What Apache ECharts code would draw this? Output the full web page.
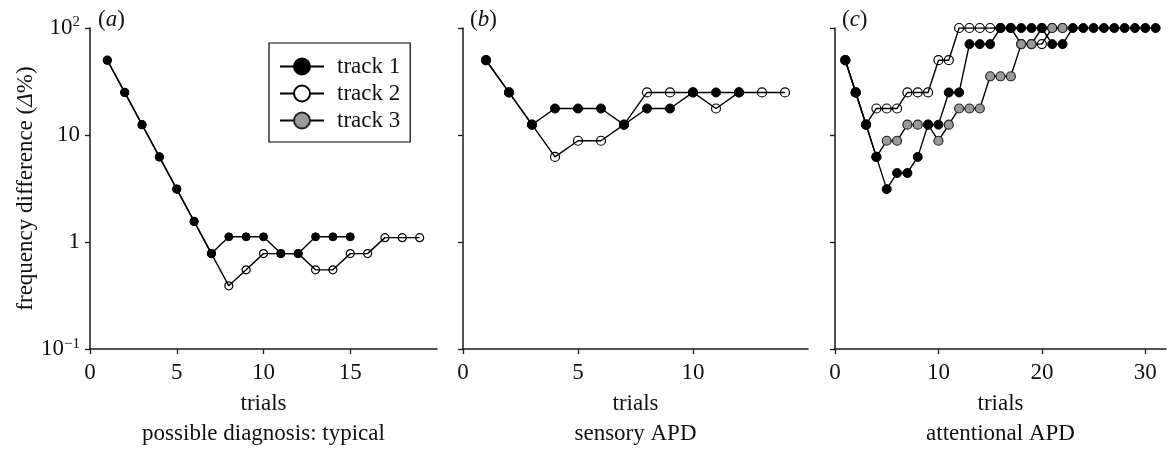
<!DOCTYPE html>
<html><head><meta charset="utf-8">
<script src="https://cdn.jsdelivr.net/npm/echarts@6/dist/echarts.min.js"></script>
<style>html,body{margin:0;padding:0;background:#fff}#c{width:1169px;height:454px}</style>
</head><body><div id="c"></div>
<script>
// ---- data ----
const aTrack1 = [50,25,12.5,6.25,3.125,1.56,0.78,1.12,1.12,1.12,0.78,0.78,1.12,1.12,1.12];
const aTrack2 = [50,25,12.5,6.25,3.125,1.56,0.78,0.39,0.55,0.78,0.78,0.78,0.55,0.55,0.78,0.78,1.1,1.1,1.1];
const bTrack1 = [50,25,12.5,17.7,17.7,17.7,12.5,17.7,17.7,25,25,25];
const bTrack2 = [50,25,12.5,6.25,8.84,8.84,12.5,25,25,25,17.7,25,25,25];
const cTrack1 = [50,25,12.5,6.25,3.125,4.42,4.42,6.25,12.5,12.5,25,25,70.7,70.7,70.7,100,100,100,100,100,70.7,70.7,100,100,100,100,100,100,100,100,100];
const cTrack2 = [50,25,12.5,17.7,17.7,17.7,25,25,25,50,50,100,100,100,100,100,100,70.7,70.7,70.7,100,100];
const cTrack3 = [50,25,12.5,6.25,8.84,8.84,12.5,12.5,12.5,8.84,12.5,17.7,17.7,17.7,35.4,35.4,35.4,70.7,70.7,100,100,100];
const panelLetters = ['a','b','c'];
const panelSubtitles = ['possible diagnosis: typical','sensory APD','attentional APD'];
const xMax = [20,15,32];
const xInterval = [5,5,10];
const trackNames = ['track 1','track 2','track 3'];
const yTitle = 'frequency difference ';

const FONT = '"Liberation Serif", "DejaVu Serif", serif';
const chart = echarts.init(document.getElementById('c'), null, {renderer:'canvas'});

const grids = [
  {left:90, top:28, width:347, height:329},
  {left:463, top:28, width:345, height:329},
  {left:835, top:28, width:331, height:329}
];
const axisLine = {lineStyle:{color:'#1a1a1a', width:1.5}};
const xAxes = grids.map((g,i)=>({
  type:'value', gridIndex:i, min:0, max:xMax[i], interval:xInterval[i],
  axisLine:Object.assign({onZero:false}, axisLine),
  axisTick:{show:true, length:5, lineStyle:{color:'#1a1a1a', width:1.3}},
  splitLine:{show:false},
  axisLabel:{fontFamily:FONT, fontSize:23, color:'#111', margin:12, showMaxLabel:false},
  name:'trials\n'+panelSubtitles[i], nameLocation:'middle', nameGap:36,
  nameTextStyle:{fontFamily:FONT, fontSize:23, color:'#111', lineHeight:30}
}));
function yFmt(v){
  const l = Math.round(Math.log10(v));
  if (l === -1) return '10{s|−1}';
  if (l === 2) return '10{s|2}';
  return String(Math.round(v));
}
const yAxes = grids.map((g,i)=>({
  type:'log', logBase:10, gridIndex:i, min:0.1, max:100,
  axisLine:axisLine,
  axisTick:{show:true, length:5, lineStyle:{color:'#1a1a1a', width:1.3}},
  minorTick:{show:false}, splitLine:{show:false},
  axisLabel:{show:i===0, fontFamily:FONT, fontSize:23, color:'#111', margin:10, formatter:yFmt,
    rich:{s:{fontFamily:FONT, fontSize:15, color:'#111', padding:[0,0,11,0]}}},
  name: i===0 ? yTitle+'({i|Δ}%)' : '', nameLocation:'middle', nameGap:50,
  nameTextStyle:{fontFamily:FONT, fontSize:23, color:'#111',
    rich:{i:{fontFamily:FONT, fontSize:23, fontStyle:'italic', color:'#111'}}}
}));

const styles = [
  {itemStyle:{color:'#000', borderColor:'#000', borderWidth:1}, z:5},
  {itemStyle:{color:'rgba(255,255,255,0)', borderColor:'#000', borderWidth:1.2}, z:3},
  {itemStyle:{color:'#9a9a9a', borderColor:'#222', borderWidth:1.2}, z:4}
];
const panels = [[aTrack1,aTrack2],[bTrack1,bTrack2],[cTrack1,cTrack2,cTrack3]];
const symSize = [8,9,9];
const series = [];
panels.forEach((tracks,p)=>{
  tracks.forEach((vals,t)=>{
    series.push({
      type:'line', name:trackNames[t], xAxisIndex:p, yAxisIndex:p,
      data: vals.map((v,k)=>[k+1,v]),
      symbol:'circle', symbolSize:symSize[p], showAllSymbol:true,
      lineStyle:{color:'#000', width:1.4},
      itemStyle:styles[t].itemStyle, z:styles[t].z,
      emphasis:{disabled:true}, animation:false
    });
  });
});

const graphics = panelLetters.map((L,i)=>({
  type:'text', left:[98,470,842][i], top:8,
  style:{text:'({i|'+L+'})', fontFamily:FONT, fontSize:23, fill:'#111',
    rich:{i:{fontFamily:FONT, fontSize:23, fontStyle:'italic', fill:'#111'}}}
}));

chart.setOption({
  animation:false,
  backgroundColor:'#fff',
  grid:grids,
  xAxis:xAxes, yAxis:yAxes,
  legend:{
    orient:'vertical', left:269, top:43, padding:[12,10,10,10],
    borderColor:'#000', borderWidth:1.2, itemWidth:44, itemHeight:20, itemGap:4,
    selectedMode:false,
    textStyle:{fontFamily:FONT, fontSize:23, color:'#111', padding:[0,0,0,8]},
    data:[{name:'track 1'},{name:'track 2', itemStyle:{color:'#fff'}},{name:'track 3'}]
  },
  graphic:graphics,
  series:series
});
</script></body></html>
